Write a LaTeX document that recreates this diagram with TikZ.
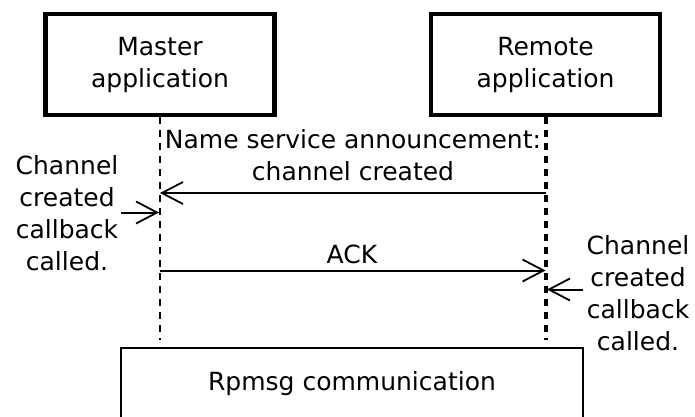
\documentclass[tikz,border=0pt]{standalone}
\usepackage{fontspec}
\setmainfont{DejaVu Sans}
\usetikzlibrary{arrows.meta,positioning}
\tikzset{>={Straight Barb[length=21pt,width=22pt,line width=1.8pt]}}
\tikzstyle{appbox}=[draw,line width=4.5pt,minimum width=229pt,minimum height=101pt,align=center,
                    font=\fontsize{25}{32}\selectfont]
\tikzstyle{commbox}=[draw,line width=2pt,minimum width=462pt,minimum height=72pt,
                     font=\fontsize{25}{32}\selectfont]
\tikzstyle{msglabel}=[align=center,font=\fontsize{25}{32}\selectfont]
\tikzstyle{lifeline}=[dash pattern=on 7pt off 6pt]
\tikzstyle{message}=[->,line width=2pt]

\begin{document}
\begin{tikzpicture}[x=1pt,y=-1pt]

    \useasboundingbox (0,0) rectangle (695,416); % page size

    \node[appbox] (master) at (160,64.5) {Master\\application};
    \node[appbox] (remote) at (545.5,64.5) {Remote\\application};
    \node[commbox] (comm) at (352,384) {Rpmsg communication};

    \coordinate (mend) at (160,340);  % ends of the lifelines
    \coordinate (rend) at (545.5,340);
    \draw[lifeline,line width=2pt] (master.south) -- (mend);
    \draw[lifeline,line width=4pt] (remote.south) -- (rend);

    \coordinate (nsm) at (160,193); % name service message
    \coordinate (nsr) at (545.5,193);
    \draw[message] (nsr) -- (nsm);
    \node[msglabel] (nslabel) at (353,155) {Name service announcement:\\channel created};

    \coordinate (ackm) at (160,270.5); % acknowledgement
    \coordinate (ackr) at (545.5,270.5);
    \draw[message] (ackm) -- (ackr);
    \node[msglabel] (acklabel) at (352,254) {ACK};

    \node[msglabel] (mcb) at (67,213) {Channel\\created\\callback\\called.};
    \node[msglabel] (rcb) at (638,293) {Channel\\created\\callback\\called.};
    \coordinate (mcbtip) at (159,212.5);
    \coordinate (rcbtip) at (547,289.5);
    \draw[message] ([xshift=-1pt]mcb.east |- mcbtip) -- (mcbtip);
    \draw[message] (rcb.west |- rcbtip) -- (rcbtip);

\end{tikzpicture}
\end{document}
